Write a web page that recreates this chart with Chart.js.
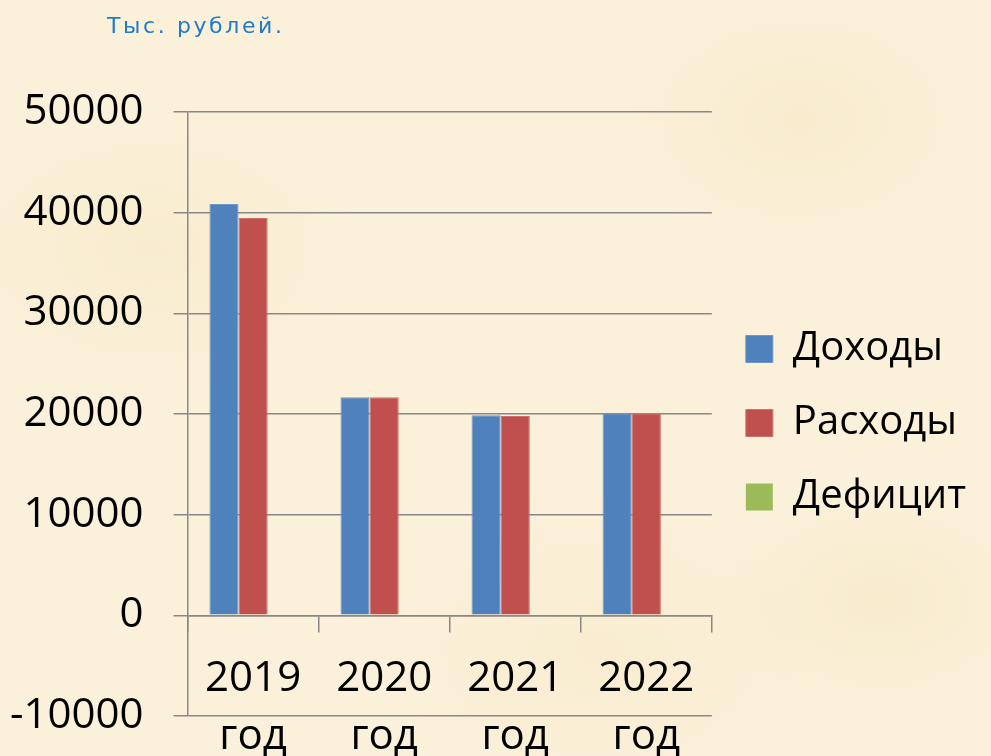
<!DOCTYPE html>
<html><head><meta charset="utf-8">
<script src="https://cdn.jsdelivr.net/npm/chart.js@4.4.1/dist/chart.umd.min.js"></script>
<style>
html,body{margin:0;padding:0;}
body{width:991px;height:756px;overflow:hidden;background-color:#FBF0D9;
background-image:
radial-gradient(ellipse 300px 200px at 150px 250px, rgba(245,230,195,0.45), rgba(245,230,195,0) 70%),
radial-gradient(ellipse 260px 180px at 800px 120px, rgba(244,228,190,0.4), rgba(244,228,190,0) 70%),
radial-gradient(ellipse 320px 220px at 600px 650px, rgba(246,231,196,0.4), rgba(246,231,196,0) 70%),
radial-gradient(ellipse 240px 160px at 880px 600px, rgba(243,227,190,0.4), rgba(243,227,190,0) 70%);}
#wrap{position:relative;width:991px;height:756px;}
#unit{position:absolute;left:107px;top:13px;font:22px "DejaVu Sans",sans-serif;color:#1F7BCB;letter-spacing:2.6px;white-space:nowrap;}
</style></head><body>
<div id="wrap"><canvas id="c"></canvas><div id="unit">Тыс. рублей.</div></div>
<script>
const categories = [['2019', 'год'], ['2020', 'год'], ['2021', 'год'], ['2022', 'год']];
const seriesNames = ['Доходы', 'Расходы', 'Дефицит'];
const incomeValues = [40850, 21650, 19860, 20060];
const expenseValues = [39460, 21650, 19800, 20060];
const deficitValues = [0, 0, 0, 0];
const yMin = -10000;
const yMax = 50000;
const yStep = 10000;

const gridColor = '#888888';
const yAxisExtraWidth = 100;
Chart.defaults.font.family = '"Open Sans", sans-serif';
Chart.defaults.color = '#000';

new Chart(document.getElementById('c'), {
  type: 'bar',
  data: {
    labels: categories,
    datasets: [
      { label: seriesNames[0], data: incomeValues, backgroundColor: '#4F81BD', borderColor: '#6F97C9', borderWidth: 1 },
      { label: seriesNames[1], data: expenseValues, backgroundColor: '#C0504D', borderColor: '#CD706D', borderWidth: 1 },
      { label: seriesNames[2], data: deficitValues, backgroundColor: '#9BBB59', borderWidth: 0 }
    ]
  },
  options: {
    responsive: true,
    maintainAspectRatio: false,
    animation: false,
    layout: { padding: { top: 112, bottom: 22, left: -120, right: 15 } },
    datasets: { bar: { categoryPercentage: 0.667, barPercentage: 1.0 } },
    plugins: {
      title: { display: false },
      tooltip: { enabled: false },
      legend: {
        position: 'right',
        labels: {
          boxWidth: 27, boxHeight: 27, padding: 34,
          font: { size: 40 }, color: '#000'
        }
      }
    },
    scales: {
      x: {
        position: { y: 0 },
        grid: { drawOnChartArea: false, drawTicks: true, tickLength: 16, color: gridColor, lineWidth: 1.5 },
        border: { display: true, color: gridColor, width: 1.5 },
        ticks: { font: { size: 42, lineHeight: 1.38 }, color: '#000', padding: 19, maxRotation: 0, autoSkip: false }
      },
      y: {
        min: yMin, max: yMax,
        afterFit: (scale) => { scale.width += yAxisExtraWidth; },
        grid: { color: gridColor, lineWidth: 1.5, tickLength: 14, drawTicks: true },
        border: { display: true, color: gridColor, width: 1.5 },
        ticks: { stepSize: yStep, font: { size: 42, lineHeight: 0.48 }, color: '#000', padding: 30, callback: (v) => String(v) }
      }
    }
  }
});
</script>
</body></html>
